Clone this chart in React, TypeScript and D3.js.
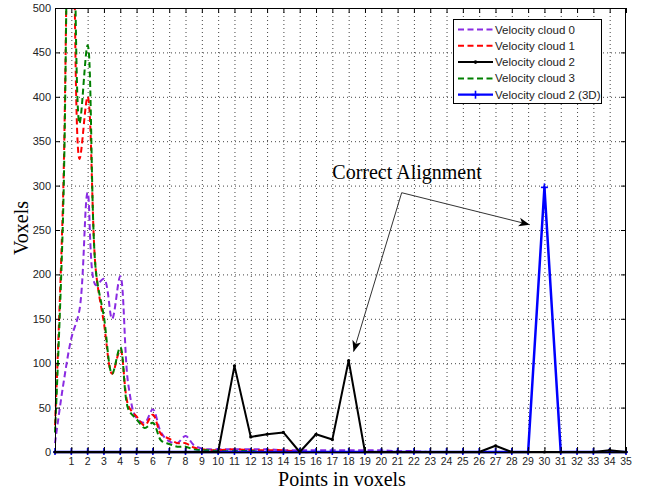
import React from "react";
import * as d3 from "d3";

// x positions of the smoothed (dashed) series
const fineX = [0, 0.5, 1, 1.5, 2, 2.5, 3, 3.5, 4, 4.5, 5, 5.5, 6, 6.5, 7, 7.5, 8, 8.5, 9, 9.5, 10,
  11, 12, 13, 14, 15, 16, 17, 18, 19, 20, 21, 22, 23, 24, 25, 26, 27, 28, 29, 30, 31, 32, 33, 34, 35];
const cloud0 = [10, 75, 128, 160, 292, 188, 195, 150, 198, 75, 38, 33, 48, 22, 12, 10, 18, 8, 4, 3, 3,
  3, 3, 3, 2, 2, 2, 2, 2, 2, 2, 1, 1, 0, 0, 0, 0, 0, 0, 0, 0, 0, 0, 0, 0, 0];
const cloud1 = [30, 290, 850, 330, 400, 205, 145, 88, 115, 52, 40, 30, 42, 20, 15, 10, 10, 5, 3, 2, 2,
  3, 2, 2, 2, 0, 0, 0, 0, 0, 0, 0, 0, 0, 0, 0, 0, 0, 0, 0, 0, 0, 0, 0, 0, 0];
const cloud3 = [22, 270, 880, 370, 458, 205, 152, 88, 118, 48, 37, 27, 33, 13, 9, 6, 6, 3, 2, 2, 1,
  1, 1, 0, 0, 0, 0, 0, 0, 0, 0, 0, 0, 0, 0, 0, 0, 0, 0, 0, 0, 0, 0, 0, 0, 0];

// integer positions for cloud 2 series
const intX = d3.range(0, 36);
const cloud2 = [0, 0, 0, 0, 0, 0, 0, 0, 0, 0, 0, 97, 17, 20, 22, 0, 20, 14, 103, 0, 0, 0, 0, 0, 0, 0, 0, 7, 0, 0, 0, 0, 0, 0, 2, 0];
const cloud2_3D = [0, 0, 0, 0, 0, 0, 0, 0, 0, 0, 0, 0, 0, 0, 0, 0, 0, 0, 0, 0, 0, 0, 0, 0, 0, 0, 0, 0, 0, 0, 298, 0, 0, 0, 0, 0];

const xTicks = d3.range(0, 36);
const xTickLabels = d3.range(1, 36).map(String);
const yTicks = [0, 50, 100, 150, 200, 250, 300, 350, 400, 450, 500];

const legendLabels = ["Velocity cloud 0", "Velocity cloud 1", "Velocity cloud 2", "Velocity cloud 3", "Velocity cloud 2 (3D)"];
const annotationText = "Correct Alignment";
const annotationAt = [17, 307];
const arrowFrom = [21.25, 292];
const arrowTargets = [[29.1, 256], [18.3, 113]];

const W = 656, H = 492;
const L = 55, R = 626, T = 8, B = 452;

export default function App() {
  const x = d3.scaleLinear().domain([0, 35]).range([L, R]);
  const y = d3.scaleLinear().domain([0, 500]).range([B, T]);

  const smooth = d3.line<number[]>().x(d => x(d[0])).y(d => y(d[1])).curve(d3.curveCatmullRom.alpha(0.5));
  const straight = d3.line<number[]>().x(d => x(d[0])).y(d => y(d[1]));

  const zipF = (v: number[]) => fineX.map((xx, i) => [xx, v[i]]);
  const zipI = (v: number[]) => intX.map((xx, i) => [xx, v[i]]);

  const dashed = [
    { vals: cloud0, color: "#8a2be2" },
    { vals: cloud1, color: "#ff0000" },
    { vals: cloud3, color: "#008000" },
  ];

  const legendItems = [
    { label: legendLabels[0], color: "#8a2be2", dash: "6,3.5", w: 2, marker: "" },
    { label: legendLabels[1], color: "#ff0000", dash: "6,3.5", w: 2, marker: "" },
    { label: legendLabels[2], color: "#000000", dash: "", w: 2, marker: "dot" },
    { label: legendLabels[3], color: "#008000", dash: "6,3.5", w: 2, marker: "" },
    { label: legendLabels[4], color: "#0000ff", dash: "", w: 2.2, marker: "plus" },
  ];

  const sans = "'Liberation Sans', Arial, sans-serif";
  const serif = "'Liberation Serif', 'Times New Roman', serif";

  return (
    <svg width={W} height={H} style={{ position: "absolute", left: 0, top: 0, background: "#fff" }}>
      <defs>
        <clipPath id="plotclip">
          <rect x={L - 2} y={T} width={R - L + 4} height={B - T + 3} />
        </clipPath>
        <marker id="arrowhead" viewBox="-12 -6 14 12" refX="0" refY="0" markerWidth="14" markerHeight="12"
          markerUnits="userSpaceOnUse" orient="auto">
          <path d="M0,0 L-11,-4.5 L-8,0 L-11,4.5 Z" fill="#000" />
        </marker>
      </defs>
      <rect x={0} y={0} width={W} height={H} fill="#fff" />
      {/* grid */}
      <g stroke="#444" strokeWidth={1} strokeDasharray="1,3">
        {xTicks.filter(t => t > 0 && t < 35).map(t => (
          <line key={"gx" + t} x1={x(t) + 0.5} x2={x(t) + 0.5} y1={T} y2={B} />
        ))}
        {yTicks.filter(t => t > 0 && t < 500).map(t => (
          <line key={"gy" + t} x1={L} x2={R} y1={y(t) + 0.5} y2={y(t) + 0.5} />
        ))}
      </g>
      {/* series */}
      <g clipPath="url(#plotclip)" fill="none" strokeLinejoin="round">
        {dashed.map((s, i) => (
          <path key={"d" + i} d={smooth(zipF(s.vals)) || ""} stroke={s.color} strokeWidth={2} strokeDasharray="6,3.5" />
        ))}
        <path d={straight(zipI(cloud2_3D)) || ""} stroke="#0000ff" strokeWidth={2.5} />
        {intX.map((xx, i) => (
          <g key={"p" + i} stroke="#0000ff" strokeWidth={1.6}>
            <line x1={x(xx) - 3.5} x2={x(xx) + 3.5} y1={y(cloud2_3D[i])} y2={y(cloud2_3D[i])} />
            <line x1={x(xx)} x2={x(xx)} y1={y(cloud2_3D[i]) - 4} y2={y(cloud2_3D[i]) + 4} />
          </g>
        ))}
        <path d={straight(zipI(cloud2)) || ""} stroke="#000" strokeWidth={2} />
        {intX.map((xx, i) => (
          <circle key={"c" + i} cx={x(xx)} cy={y(cloud2[i])} r={1.6} fill="#000" stroke="none" />
        ))}
      </g>
      {/* axes box */}
      <rect x={L + 0.5} y={T + 0.5} width={R - L - 1} height={B - T} fill="none" stroke="#000" strokeWidth={1} />
      <line x1={L} x2={R} y1={B + 0.5} y2={B + 0.5} stroke="#000" strokeWidth={1.5} />
      {/* ticks */}
      <g stroke="#000" strokeWidth={1}>
        {xTicks.map(t => (
          <g key={"tx" + t}>
            <line x1={x(t) + 0.5} x2={x(t) + 0.5} y1={B} y2={B - 5} />
            <line x1={x(t) + 0.5} x2={x(t) + 0.5} y1={T} y2={T + 5} />
          </g>
        ))}
        {yTicks.map(t => (
          <g key={"ty" + t}>
            <line x1={L} x2={L + 5} y1={y(t) + 0.5} y2={y(t) + 0.5} />
            <line x1={R} x2={R - 5} y1={y(t) + 0.5} y2={y(t) + 0.5} />
          </g>
        ))}
      </g>
      {/* tick labels */}
      <g fontFamily={sans} fill="#222">
        {xTickLabels.map(lbl => (
          <text key={"lx" + lbl} x={x(+lbl)} y={464.5} textAnchor="middle" fontSize={10.5}>{lbl}</text>
        ))}
        {yTicks.map(t => (
          <text key={"ly" + t} x={51} y={y(t) + 4} textAnchor="end" fontSize={11}>{t}</text>
        ))}
      </g>
      {/* axis labels */}
      <text x={342} y={485.5} textAnchor="middle" fontFamily={serif} fontSize={20} fill="#000">Points in voxels</text>
      <text transform={`translate(28,228) rotate(-90)`} textAnchor="middle" fontFamily={serif} fontSize={20} fill="#000">Voxels</text>
      {/* annotation */}
      <text x={x(annotationAt[0])} y={y(annotationAt[1])} fontFamily={serif} fontSize={20} fill="#000">{annotationText}</text>
      {arrowTargets.map((tg, i) => (
        <line key={"ar" + i} x1={x(arrowFrom[0])} y1={y(arrowFrom[1])} x2={x(tg[0])} y2={y(tg[1])}
          stroke="#333" strokeWidth={1} markerEnd="url(#arrowhead)" />
      ))}
      {/* legend */}
      <g>
        <rect x={453.5} y={19.5} width={148} height={84} fill="#fff" stroke="#000" strokeWidth={1} />
        {legendItems.map((it, i) => {
          const cy = 29.5 + i * 16.3;
          return (
            <g key={"lg" + i}>
              <line x1={458} x2={493} y1={cy} y2={cy} stroke={it.color} strokeWidth={it.w}
                strokeDasharray={it.dash || undefined} />
              {it.marker === "dot" && <circle cx={475.5} cy={cy} r={1.8} fill={it.color} />}
              {it.marker === "plus" && (
                <g stroke={it.color} strokeWidth={1.6}>
                  <line x1={475.5} x2={475.5} y1={cy - 4} y2={cy + 4} />
                  <line x1={471.5} x2={479.5} y1={cy} y2={cy} />
                </g>
              )}
              <text x={495} y={cy + 4} fontFamily={sans} fontSize={11.5} fill="#222">{it.label}</text>
            </g>
          );
        })}
      </g>
    </svg>
  );
}
